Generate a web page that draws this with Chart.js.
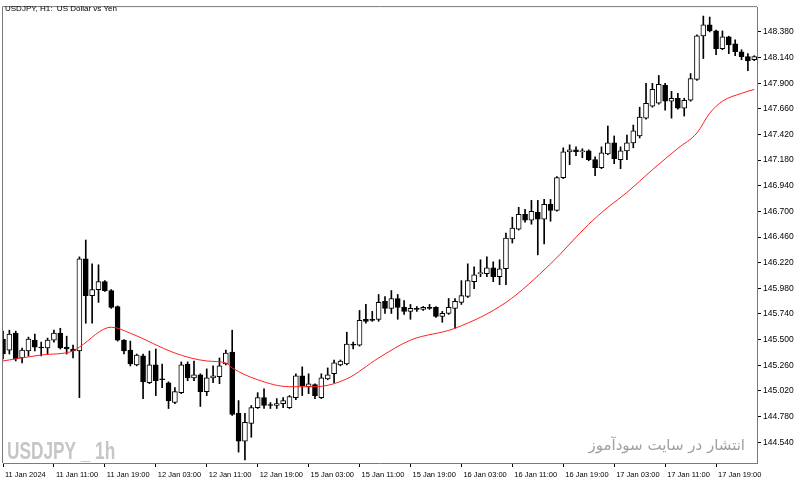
<!DOCTYPE html>
<html><head><meta charset="utf-8">
<script src="https://cdn.jsdelivr.net/npm/chart.js@4.4.1/dist/chart.umd.min.js"></script>
<style>
html,body{margin:0;padding:0;background:#fff;}
#wrap{position:relative;width:800px;height:483px;overflow:hidden;}
canvas{position:absolute;left:0;top:0;}
.t{position:absolute;white-space:pre;line-height:1;}
</style></head><body>
<div id="wrap">
<canvas id="c" width="800" height="483"></canvas>
<div class="t" style="left:5px;top:4px;font:8px 'Liberation Sans',sans-serif;color:#000;">USDJPY, H1:  US Dollar vs Yen</div>
<div class="t" style="left:7px;top:437px;font:bold 24px 'Liberation Sans',sans-serif;color:#c6c6c6;transform:scaleX(0.72);transform-origin:0 0;">USDJPY _ 1h</div>
<div class="t" dir="rtl" style="right:55px;top:436px;font:15px 'DejaVu Sans',sans-serif;color:#a0a0a0;">انتشار در سایت سودآموز</div>
</div>
<script>
const opens = [145.505,145.402,145.560,145.328,145.393,145.495,145.430,145.421,145.495,145.560,
145.430,145.412,145.393,146.256,145.912,145.968,146.042,145.959,145.810,145.495,
145.402,145.263,145.347,145.096,145.263,145.133,145.096,144.911,145.003,145.272,
145.142,145.170,145.013,145.142,145.152,145.272,145.384,144.809,144.549,144.716,
144.864,144.957,144.892,144.883,144.901,144.864,144.957,145.161,145.059,145.078,
144.957,145.133,145.180,145.263,145.272,145.458,145.449,145.690,145.690,145.690,
145.857,145.792,145.885,145.801,145.764,145.792,145.783,145.801,145.801,145.718,
145.745,145.792,145.848,145.903,146.042,146.117,146.117,146.172,146.089,146.163,
146.442,146.534,146.673,146.617,146.692,146.627,146.766,146.710,147.016,147.258,
147.276,147.258,147.267,147.184,147.109,147.239,147.341,147.184,147.267,147.341,
147.406,147.573,147.685,147.712,147.879,147.731,147.759,147.666,147.740,147.935,
148.343,148.445,148.389,148.222,148.334,148.269,148.194,148.148,148.120];
const highs = [145.579,145.588,145.579,145.421,145.523,145.551,145.477,145.514,145.588,145.606,
145.532,145.449,146.274,146.432,146.209,146.200,146.052,145.968,145.815,145.500,
145.486,145.365,145.365,145.393,145.412,145.272,145.105,145.050,145.291,145.291,
145.300,145.180,145.226,145.254,145.328,145.402,145.588,144.929,144.809,144.883,
145.003,145.040,144.911,144.948,144.957,144.976,145.180,145.245,145.180,145.087,
145.180,145.235,145.309,145.309,145.569,145.477,145.773,145.829,145.764,145.922,
145.903,145.959,145.922,145.866,145.829,145.810,145.810,145.829,145.810,145.764,
145.885,145.885,146.052,146.209,146.181,146.247,146.274,146.228,146.247,146.497,
146.645,146.738,146.720,146.803,146.803,146.812,146.812,147.026,147.295,147.323,
147.304,147.286,147.276,147.211,147.304,147.499,147.406,147.304,147.415,147.508,
147.675,147.898,147.898,147.972,147.898,147.824,147.805,147.759,147.990,148.352,
148.528,148.519,148.398,148.389,148.340,148.306,148.213,148.176,148.157];
const lows = [145.319,145.365,145.300,145.282,145.347,145.393,145.347,145.365,145.477,145.412,
145.365,145.328,144.957,145.653,145.653,145.848,145.950,145.792,145.486,145.365,
145.254,145.254,144.948,145.087,144.976,145.050,144.855,144.901,144.994,145.115,
145.115,144.874,144.976,145.096,145.087,145.263,144.790,144.447,144.373,144.586,
144.855,144.855,144.855,144.855,144.864,144.855,144.938,144.976,144.994,144.948,
144.948,145.124,145.096,145.254,145.263,145.412,145.439,145.653,145.671,145.671,
145.745,145.745,145.690,145.736,145.690,145.764,145.773,145.783,145.708,145.662,
145.736,145.606,145.829,145.894,145.977,146.089,146.089,146.042,146.014,146.014,
146.404,146.525,146.599,146.580,146.293,146.395,146.608,146.701,147.007,147.137,
147.221,147.202,147.174,147.035,147.100,147.230,147.146,147.100,147.184,147.295,
147.387,147.564,147.675,147.703,147.647,147.573,147.657,147.592,147.731,147.926,
148.130,148.380,148.167,148.213,148.176,148.157,148.120,148.018,148.111];
const closes = [145.365,145.551,145.319,145.402,145.505,145.430,145.421,145.495,145.560,145.421,
145.412,145.393,146.256,145.912,145.968,146.042,145.959,145.801,145.495,145.393,
145.272,145.356,145.105,145.263,145.115,145.124,144.929,145.013,145.263,145.142,
145.170,145.013,145.142,145.161,145.254,145.374,144.800,144.549,144.725,144.864,
144.957,144.883,144.883,144.901,144.929,144.966,145.161,145.068,145.087,144.976,
145.142,145.170,145.282,145.300,145.458,145.449,145.680,145.671,145.680,145.848,
145.792,145.885,145.801,145.764,145.792,145.783,145.801,145.792,145.718,145.745,
145.801,145.857,145.912,146.052,146.107,146.126,146.172,146.089,146.163,146.451,
146.543,146.673,146.617,146.701,146.627,146.766,146.710,147.016,147.258,147.276,
147.258,147.267,147.184,147.109,147.248,147.341,147.193,147.267,147.341,147.453,
147.583,147.712,147.842,147.889,147.731,147.759,147.666,147.740,147.944,148.343,
148.445,148.389,148.222,148.334,148.259,148.194,148.148,148.111,148.148];

// moving average (red line), read at these bars
const maBars   = [0, 6, 11, 12, 17, 20, 27, 32, 35, 36, 40, 45, 49, 54, 59, 64, 71, 79, 86, 92, 95, 98, 102, 106, 109, 111, 113, 116, 118];
const maValues = [145.300,145.356,145.393,145.430,145.616,145.560,145.374,145.300,145.282,145.235,145.124,145.059,145.059,145.133,145.328,145.495,145.606,145.848,146.209,146.580,146.738,146.877,147.090,147.290,147.434,147.619,147.731,147.805,147.842];

const tickBars   = [0, 8, 16, 24, 32, 40, 48, 56, 64, 72, 80, 88, 96, 104, 112];
const tickLabels = ['11 Jan 2024','11 Jan 11:00','11 Jan 19:00','12 Jan 03:00','12 Jan 11:00','12 Jan 19:00','15 Jan 03:00','15 Jan 11:00','15 Jan 19:00','16 Jan 03:00','16 Jan 11:00','16 Jan 19:00','17 Jan 03:00','17 Jan 11:00','17 Jan 19:00'];
const priceTicks = [144.54,144.78,145.02,145.26,145.50,145.74,145.98,146.22,146.46,146.70,146.94,147.18,147.42,147.66,147.90,148.14,148.38];

const wickData = opens.map((o,i)=>({x:i, y:[lows[i], highs[i]]}));
const bodyData = opens.map((o,i)=>({x:i, y:[Math.min(o,closes[i]), Math.max(o,closes[i])]}));
const bodyFill = opens.map((o,i)=> closes[i] >= o ? '#ffffff' : '#000000');
const maData = maBars.map((b,k)=>({x:b, y:maValues[k]}));

const frame = {
  id:'frame',
  afterDraw(chart){
    const {ctx, chartArea:a} = chart;
    ctx.save();
    ctx.strokeStyle = '#7a7a7a';
    ctx.lineWidth = 1;
    ctx.beginPath();
    ctx.moveTo(a.left-0.5, a.bottom);
    ctx.lineTo(a.left-0.5, a.top-0.5);
    ctx.lineTo(a.right, a.top-0.5);
    ctx.stroke();
    ctx.restore();
  }
};

new Chart(document.getElementById('c'), {
  type:'bar',
  data:{datasets:[
    {type:'line', data:maData, borderColor:'#ff2020', borderWidth:1, pointRadius:0, cubicInterpolationMode:'monotone', order:1},
    {type:'bar', data:bodyData, backgroundColor:bodyFill, borderColor:'#000', borderWidth:1, borderSkipped:false, barThickness:5, minBarLength:1, grouped:false, order:2},
    {type:'bar', data:wickData, backgroundColor:'#000', borderWidth:0, barThickness:1, grouped:false, order:3}
  ]},
  options:{
    responsive:false, animation:false, devicePixelRatio:1,
    layout:{padding:{left:2, top:3, right:0, bottom:0}},
    plugins:{legend:{display:false}, tooltip:{enabled:false}},
    scales:{
      x:{type:'linear', position:'bottom', min:0, max:118.43, offset:false,
        afterBuildTicks:s=>{ s.ticks = tickBars.map(v=>({value:v})); },
        afterFit:s=>{ s.height = 20; },
        ticks:{autoSkip:false, maxRotation:0, align:'start', labelOffset:2, padding:3, color:'#000', font:{family:"'Liberation Sans', sans-serif", size:7.5},
          callback:(v,i)=> tickLabels[i]},
        grid:{offset:false, drawOnChartArea:false, drawTicks:true, tickLength:4, tickColor:'#000'},
        border:{display:true, color:'#7a7a7a', width:1}
      },
      y:{position:'right', min:144.345, max:148.612,
        afterBuildTicks:s=>{ s.ticks = priceTicks.map(v=>({value:v})); },
        afterFit:s=>{ s.width = 43; },
        ticks:{autoSkip:false, padding:2, color:'#000', font:{family:"'Liberation Sans', sans-serif", size:8.5}, callback:v=>Number(v).toFixed(3)},
        grid:{drawOnChartArea:false, drawTicks:true, tickLength:4, tickColor:'#000'},
        border:{display:true, color:'#7a7a7a', width:1}
      }
    }
  },
  plugins:[frame]
});
</script>
</body></html>
